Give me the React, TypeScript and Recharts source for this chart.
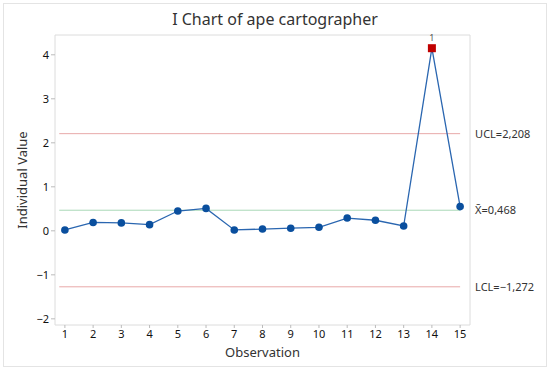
import {
  ComposedChart,
  Line,
  XAxis,
  YAxis,
  ReferenceLine,
  ReferenceArea,
} from "recharts";

const observations = [1, 2, 3, 4, 5, 6, 7, 8, 9, 10, 11, 12, 13, 14, 15];
const values = [0.02, 0.19, 0.18, 0.14, 0.45, 0.51, 0.02, 0.04, 0.06, 0.08, 0.29, 0.24, 0.11, 4.15, 0.55];
const flagged = [14];
const yTicks = [-2, -1, 0, 1, 2, 3, 4];
const xDomain = [0.65, 15.35];
const yDomain = [-2.14, 4.45];
const limits = [
  { name: "UCL", value: 2.208, label: "UCL=2,208", color: "#e8a9a9" },
  { name: "mean", value: 0.468, label: "X\u0304=0,468", color: "#a9d8b8" },
  { name: "LCL", value: -1.272, label: "LCL=\u22121,272", color: "#e8a9a9" },
];

const data = observations.map((o, i) => ({ obs: o, value: values[i] }));

const FONT = "'Noto Sans', 'Open Sans', sans-serif";

function Dot(props: any) {
  const { cx, cy, payload } = props;
  if (flagged.includes(payload.obs)) {
    return (
      <g>
        <rect x={cx - 4} y={cy - 4} width={8} height={8} fill="#c00000" />
        <text
          x={cx}
          y={cy - 7}
          textAnchor="middle"
          fontSize={9}
          fill="#555"
          stroke="none"
          fontFamily={FONT}
        >
          1
        </text>
      </g>
    );
  }
  return <circle cx={cx} cy={cy} r={3.8} fill="#0a4f9e" stroke="none" />;
}

export default function App() {
  return (
    <div
      style={{
        position: "fixed",
        left: 0,
        top: 0,
        width: 550,
        height: 370,
        background: "#fff",
        fontFamily: FONT,
      }}
    >
      <div
        style={{
          position: "absolute",
          left: 3,
          top: 3,
          width: 542,
          height: 362,
          border: "1px solid #e4e4e4",
        }}
      />
      <div
        style={{
          position: "absolute",
          top: 8,
          width: 550,
          textAlign: "center",
          fontSize: 16,
          color: "#333",
        }}
      >
        I Chart of ape cartographer
      </div>
      <ComposedChart
        width={550}
        height={370}
        data={data}
        margin={{ top: 35, right: 80, bottom: 0, left: 0 }}
        style={{ position: "absolute", left: 0, top: 0 }}
      >
        <ReferenceArea
          x1={xDomain[0]}
          x2={xDomain[1]}
          y1={yDomain[0]}
          y2={yDomain[1]}
          stroke="#dcdcdc"
          fill="none"
          fillOpacity={0}
          strokeWidth={1}
        />
        <XAxis
          dataKey="obs"
          type="number"
          domain={xDomain}
          ticks={observations}
          height={45}
          axisLine={false}
          tickLine={{ stroke: "#bbb" }}
          tickSize={3}
          tick={{ fontSize: 11, fill: "#111", fontFamily: FONT }}
          label={{
            value: "Observation",
            position: "insideBottom",
            offset: 13,
            fontSize: 13,
            fill: "#333",
            fontFamily: FONT,
          }}
        />
        <YAxis
          type="number"
          domain={yDomain}
          ticks={yTicks}
          width={55}
          axisLine={false}
          tickLine={{ stroke: "#bbb" }}
          tickSize={4}
          tickFormatter={(v: number) => (v < 0 ? `\u2212${Math.abs(v)}` : `${v}`)}
          tick={{ fontSize: 11, fill: "#111", fontFamily: FONT }}
          label={{
            value: "Individual Value",
            angle: -90,
            position: "insideLeft",
            offset: 22,
            style: { textAnchor: "middle" },
            fontSize: 13,
            fill: "#333",
            fontFamily: FONT,
          }}
        />
        {limits.map((l) => (
          <ReferenceLine
            key={l.name}
            segment={[
              { x: 0.8, y: l.value },
              { x: 15, y: l.value },
            ]}
            stroke={l.color}
            strokeWidth={1}
            label={{
              value: l.label,
              position: "right",
              offset: 15,
              fontSize: 11,
              fill: "#333",
              fontFamily: FONT,
            }}
          />
        ))}
        <Line
          dataKey="value"
          stroke="#2a66b0"
          strokeWidth={1.3}
          dot={<Dot />}
          activeDot={false}
          isAnimationActive={false}
        />
      </ComposedChart>
    </div>
  );
}
